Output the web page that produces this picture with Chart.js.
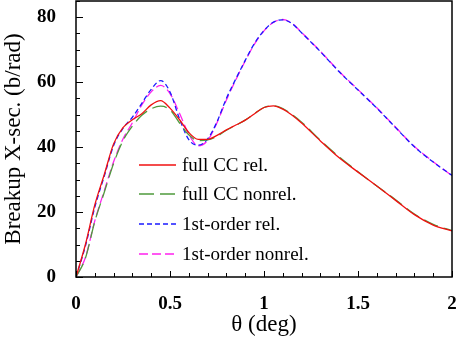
<!DOCTYPE html>
<html lang="en">
<head>
  <meta charset="UTF-8" />
  <title>Breakup cross section</title>
  <script src="https://cdn.jsdelivr.net/npm/chart.js"></script>
  <style>
    body { margin: 0; background: #fff; }
    canvas { display: block; }
  </style>
</head>
<body>
<canvas id="chart" width="457" height="341"></canvas>
<script>
// scattering angle (deg)
const theta = [0, 0.05, 0.1, 0.15, 0.2, 0.25, 0.3, 0.35, 0.4, 0.45, 0.5, 0.55, 0.6, 0.65, 0.7, 0.75,
  0.8, 0.85, 0.9, 0.95, 1.0, 1.05, 1.1, 1.15, 1.2, 1.3, 1.4, 1.5, 1.6, 1.7, 1.8, 1.9, 2.0];

// breakup cross sections (b/rad)
const fullRel = [0, 10, 22.2, 31.5, 41, 46, 48.4, 50.3, 53, 54.3, 52, 48.5, 44.5, 42.4, 42.4, 43.6,
  45.3, 46.8, 48.3, 50.3, 52.2, 52.7, 51.7, 49.8, 47.4, 41.9, 36.7, 32.3, 28, 23.6, 19.2, 16, 14.2];
const fullNonrel = [0, 5.8, 17.1, 26, 35, 42, 46.5, 49.8, 51.8, 52.6, 51.5, 47.5, 43.8, 42, 42.2, 43.3,
  45.2, 46.7, 48.3, 50.3, 52.2, 52.7, 51.9, 50, 47.7, 42.1, 37, 32.4, 28, 23.8, 19.4, 16.2, 14.3];
const firstRel = [0, 9.5, 21.5, 31, 40.5, 45.8, 49.2, 53.5, 57.8, 60.5, 57, 48.8, 42.3, 40.6, 42.5, 47.8,
  55, 61, 66.7, 72, 75.9, 78.5, 79.2, 78, 75.2, 69.4, 63.2, 57.6, 52, 46, 40.1, 35.4, 31.3];
const firstNonrel = [0, 6, 17.3, 26.5, 35.5, 42.5, 47.5, 53, 57, 59, 56.5, 50.5, 44, 40.4, 42, 47.5,
  54.5, 60.7, 66.5, 71.8, 75.8, 78.4, 79.3, 78.1, 75.3, 69.5, 63.3, 57.7, 52.1, 46.1, 40.2, 35.5, 31.2];

const labels = ['full CC rel.', 'full CC nonrel.', '1st-order rel.', '1st-order nonrel.'];
const xTickLabels = ['0', '0.5', '1', '1.5', '2'];
const yTickLabels = ['0', '20', '40', '60', '80'];

const serif = '"Liberation Serif", "Times New Roman", serif';

function pts(ys) { return theta.map((t, i) => ({ x: t, y: ys[i] })); }

function line(label, ys, color, dash) {
  return {
    label, data: pts(ys), borderColor: color, borderDash: dash,
    borderWidth: 1.3, pointRadius: 0, fill: false, cubicInterpolationMode: 'monotone'
  };
}

function xLabel(v) {
  const s = String(Math.round(v * 10) / 10);
  return xTickLabels.includes(s) ? s : '';
}
function yLabel(v) {
  const s = String(Math.round(v));
  return yTickLabels.includes(s) ? s : '';
}

function noPad(s) {
  s.paddingLeft = 0; s.paddingRight = 0; s.paddingTop = 0; s.paddingBottom = 0;
}

// frame, inward ticks and legend
const decor = {
  id: 'decor',
  afterDatasetsDraw(chart) {
    const { ctx, chartArea: a, scales } = chart;
    ctx.save();
    ctx.strokeStyle = '#000';
    ctx.lineWidth = 1.5;
    ctx.strokeRect(a.left, a.top, a.right - a.left, a.bottom - a.top);

    ctx.lineWidth = 1;
    ctx.beginPath();
    scales.x.ticks.forEach(t => {
      const px = Math.round(scales.x.getPixelForValue(t.value)) + 0.5;
      const len = xLabel(t.value) ? 6 : 4;
      ctx.moveTo(px, a.bottom);
      ctx.lineTo(px, a.bottom - len);
    });
    scales.y.ticks.forEach(t => {
      const py = Math.round(scales.y.getPixelForValue(t.value)) + 0.5;
      const len = yLabel(t.value) ? 7 : 4;
      ctx.moveTo(a.left, py);
      ctx.lineTo(a.left + len, py);
    });
    ctx.stroke();

    const rows = [165, 194, 224, 254];
    ctx.font = '19px ' + serif;
    ctx.textBaseline = 'middle';
    ctx.fillStyle = '#000';
    chart.data.datasets.forEach((ds, i) => {
      ctx.strokeStyle = ds.borderColor;
      ctx.lineWidth = 1.3;
      ctx.setLineDash(ds.borderDash || []);
      ctx.beginPath();
      ctx.moveTo(139, rows[i]);
      ctx.lineTo(176, rows[i]);
      ctx.stroke();
      ctx.setLineDash([]);
      ctx.fillText(ds.label, 182, rows[i] + 1);
    });
    ctx.restore();
  }
};

new Chart(document.getElementById('chart'), {
  type: 'line',
  data: {
    datasets: [
      line(labels[0], fullRel, '#f01010', []),
      line(labels[1], fullNonrel, '#4f9a3c', [15, 6]),
      line(labels[2], firstRel, '#1a1aff', [5, 3]),
      line(labels[3], firstNonrel, '#ff22ee', [9, 4])
    ]
  },
  options: {
    responsive: false,
    animation: false,
    devicePixelRatio: 1,
    layout: { padding: { top: 1, right: 5, left: 0, bottom: 0 } },
    plugins: { legend: { display: false }, tooltip: { enabled: false } },
    scales: {
      x: {
        type: 'linear', min: 0, max: 2,
        afterFit(s) { s.height = 64; noPad(s); },
        grid: { display: false }, border: { display: false },
        ticks: {
          stepSize: 0.1, autoSkip: false, maxRotation: 0, padding: 8,
          color: '#000', font: { family: serif, size: 19, weight: 'bold' },
          callback: v => xLabel(v)
        },
        title: {
          display: true, text: 'θ (deg)', color: '#000',
          font: { family: serif, size: 23 }, padding: { top: 0, bottom: 2 }
        }
      },
      y: {
        type: 'linear', min: 0, max: 85,
        afterFit(s) { s.width = 76; noPad(s); },
        grid: { display: false }, border: { display: false },
        ticks: {
          stepSize: 5, autoSkip: false, padding: 12,
          color: '#000', font: { family: serif, size: 19, weight: 'bold' },
          callback: v => yLabel(v)
        },
        title: {
          display: true, text: 'Breakup X-sec. (b/rad)', color: '#000',
          font: { family: serif, size: 23 }, padding: { top: 0, bottom: 0 }
        }
      }
    }
  },
  plugins: [decor]
});
</script>
</body>
</html>
